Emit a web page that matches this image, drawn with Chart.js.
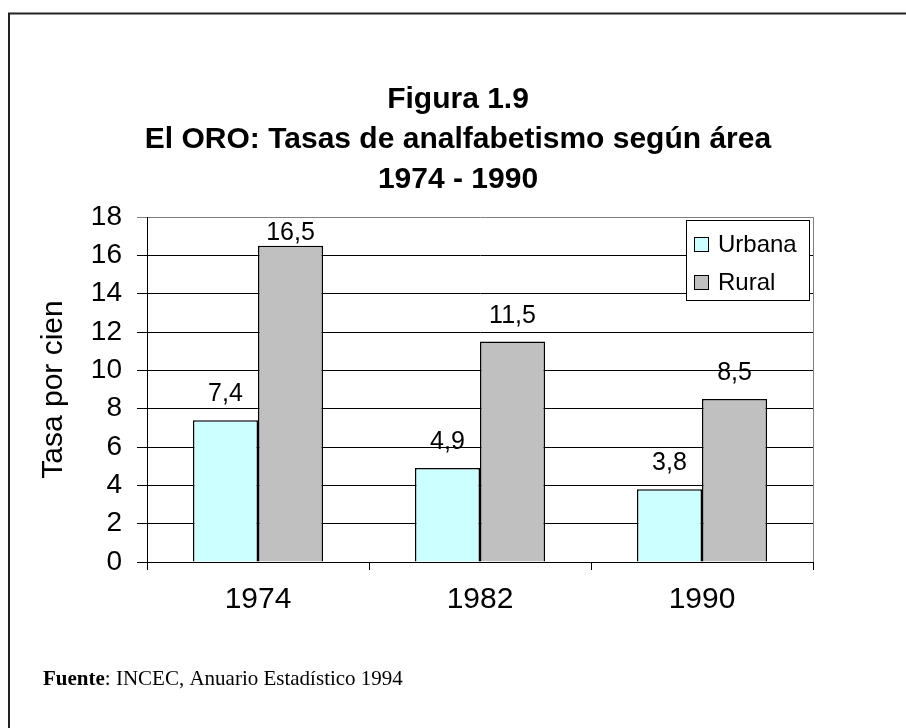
<!DOCTYPE html>
<html>
<head>
<meta charset="utf-8">
<script src="https://cdn.jsdelivr.net/npm/chart.js@4.4.0/dist/chart.umd.min.js"></script>
<style>
    body { margin: 0; background: #fff; }
</style>
</head>
<body>
<canvas id="myChart" width="906" height="728"></canvas>
<script>
// DATA
const categories = ['1974', '1982', '1990'];
const urbana = [7.4, 4.9, 3.8];
const rural = [16.5, 11.5, 8.5];
const seriesNames = ['Urbana', 'Rural'];
const titleLines = ['Figura 1.9', 'El ORO: Tasas de analfabetismo según área', '1974 - 1990'];
const yTitle = 'Tasa por cien';

const SANS = '"Liberation Sans", Arial, sans-serif';
const SERIF = '"Liberation Serif", "Times New Roman", serif';

// FRAME + FOOTER
const framePlugin = {
    id: 'frame',
    beforeDraw(chart) {
        const c = chart.ctx;
        c.save();
        c.fillStyle = '#fff';
        c.fillRect(0, 0, chart.width, chart.height);
        c.strokeStyle = '#222';
        c.lineWidth = 2;
        c.beginPath();
        c.moveTo(9, chart.height);
        c.lineTo(9, 13.5);
        c.lineTo(chart.width, 13.5);
        c.stroke();
        c.restore();
    },
    afterDraw(chart) {
        const c = chart.ctx;
        c.save();
        c.fillStyle = '#000';
        c.textBaseline = 'alphabetic';
        c.font = 'bold 21px ' + SERIF;
        c.fillText('Fuente', 43, 685);
        const w = c.measureText('Fuente').width;
        c.font = '21px ' + SERIF;
        c.fillText(': INCEC, Anuario Estadístico 1994', 43 + w, 685);
        c.restore();
    }
};

// PLOT BORDER (right gray) + DATA LABELS + LEGEND
const extrasPlugin = {
    id: 'extras',
    beforeDatasetsDraw(chart) {
        const a = chart.chartArea;
        const c = chart.ctx;
        c.save();
        c.strokeStyle = '#808080';
        c.lineWidth = 1;
        c.beginPath();
        c.moveTo(a.right + 0.5, a.top);
        c.lineTo(a.right + 0.5, a.bottom);
        c.stroke();
        c.restore();
    },
    afterDatasetsDraw(chart) {
        const a = chart.chartArea;
        const c = chart.ctx;
        c.save();
        c.fillStyle = '#000';
        c.font = '25px ' + SANS;
        c.textAlign = 'center';
        c.textBaseline = 'alphabetic';
        chart.data.datasets.forEach((ds, i) => {
            chart.getDatasetMeta(i).data.forEach((bar, j) => {
                const txt = String(ds.data[j]).replace('.', ',');
                const y = Math.max(bar.y - 19, a.top + 23);
                c.fillText(txt, bar.x, y);
            });
        });

        // legend box
        const bx = a.right - 127, by = a.top + 3, bw = 123, bh = 80;
        c.fillStyle = '#fff';
        c.fillRect(bx, by, bw, bh);
        c.strokeStyle = '#000';
        c.lineWidth = 1;
        c.strokeRect(bx + 0.5, by + 0.5, bw, bh);
        c.textAlign = 'left';
        c.textBaseline = 'middle';
        c.font = '24px ' + SANS;
        chart.data.datasets.forEach((ds, i) => {
            const cy = by + 24 + i * 38;
            c.fillStyle = ds.backgroundColor;
            c.fillRect(bx + 8, cy - 7, 15, 15);
            c.strokeStyle = '#000';
            c.strokeRect(bx + 8.5, cy - 6.5, 14, 14);
            c.fillStyle = '#000';
            c.fillText(ds.label, bx + 32, cy + 1);
        });
        c.restore();
    }
};

const ctx = document.getElementById('myChart');
const myChart = new Chart(ctx, {
    type: 'bar',
    data: {
        labels: categories,
        datasets: [{
            label: seriesNames[0],
            data: urbana,
            backgroundColor: '#CCFFFF',
            borderColor: '#000',
            borderWidth: 1.5
        }, {
            label: seriesNames[1],
            data: rural,
            backgroundColor: '#C0C0C0',
            borderColor: '#000',
            borderWidth: 1.5
        }]
    },
    options: {
        responsive: false,
        animation: false,
        events: [],
        layout: {
            padding: { left: 10, right: 0, top: 0, bottom: 106 }
        },
        datasets: {
            bar: { categoryPercentage: 0.586, barPercentage: 1 }
        },
        plugins: {
            legend: { display: false },
            tooltip: { enabled: false },
            title: {
                display: true,
                text: titleLines,
                color: '#000',
                font: { family: SANS, size: 30, weight: 'bold', lineHeight: 40 / 30 },
                padding: { top: 80, bottom: 17 }
            }
        },
        scales: {
            x: {
                afterFit(scale) { scale.height = 60; },
                grid: {
                    offset: true,
                    drawOnChartArea: false,
                    drawTicks: true,
                    tickLength: 8,
                    color: '#000'
                },
                border: { color: '#000', width: 1 },
                ticks: {
                    color: '#000',
                    padding: 12,
                    font: { family: SANS, size: 30 }
                }
            },
            y: {
                min: 0,
                max: 18,
                afterFit(scale) { scale.width = 137; },
                grid: {
                    color: (c) => (c.tick && c.tick.value === 18 ? '#808080' : '#000'),
                    tickLength: 10
                },
                border: { color: '#000', width: 1 },
                ticks: {
                    stepSize: 2,
                    color: '#000',
                    padding: 15,
                    font: { family: SANS, size: 28 }
                },
                title: {
                    display: true,
                    text: yTitle,
                    color: '#000',
                    font: { family: SANS, size: 30 },
                    padding: { top: 26, bottom: 0 }
                }
            },
            // empty right-hand space so the plot ends where the reference's does
            yRight: {
                position: 'right',
                afterFit(scale) { scale.width = 93; },
                grid: { display: false },
                border: { display: false },
                ticks: { display: false }
            }
        }
    },
    plugins: [framePlugin, extrasPlugin]
});
</script>
</body>
</html>
